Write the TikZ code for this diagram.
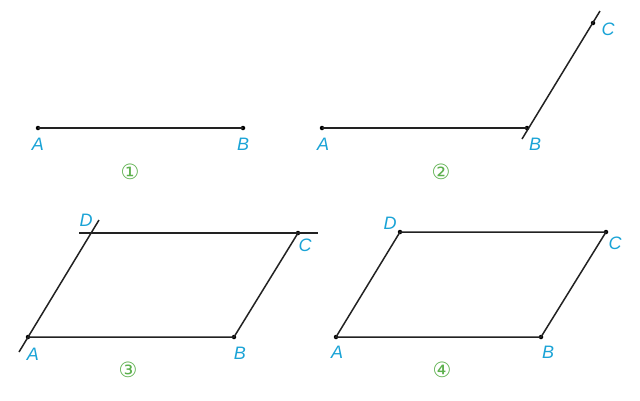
\documentclass[tikz,border=0pt]{standalone}
\usepackage{fontspec}
\setmainfont{Liberation Sans}
\newfontfamily\symfont{DejaVu Sans}
\definecolor{lblblue}{HTML}{1AA3D6}
\definecolor{numgreen}{HTML}{5DB04E}
\definecolor{linegray}{HTML}{222222}
\begin{document}
\begin{tikzpicture}[x=1pt,y=-1pt,
  seg/.style={draw=linegray,line width=1.5pt},
  pt/.style={circle,fill=black,inner sep=0pt,minimum size=4.5pt},
  lbl/.style={text=lblblue,font=\fontsize{18}{21}\selectfont\itshape,inner sep=0pt},
  num/.style={text=numgreen,font=\symfont\fontsize{21}{24}\selectfont,inner sep=0pt}]
\useasboundingbox (0,0) rectangle (640,400);
% Figure 1
\node[pt] (a1) at (38,128) {};
\node[pt] (b1) at (243,128) {};
\draw[seg] (a1.center) -- (b1.center);
\node[lbl] (la1) at (38,144) {A};
\node[lbl] (lb1) at (243,144) {B};
\node[num] (n1) at (130,172) {①};
% Figure 2
\node[pt] (a2) at (322,128) {};
\node[pt] (b2) at (527,128) {};
\node[pt] (c2) at (593,23) {};
\coordinate (b2e) at (522,139);
\coordinate (c2e) at (600,11);
\draw[seg] (a2.center) -- (b2.center);
\draw[seg] (b2e) -- (c2e);
\node[lbl] (la2) at (323,144) {A};
\node[lbl] (lb2) at (535,144) {B};
\node[lbl] (lc2) at (608,29) {C};
\node[num] (n2) at (441,172) {②};
% Figure 3
\node[pt] (a3) at (28,337) {};
\node[pt] (b3) at (234,337) {};
\node[pt] (c3) at (298,233) {};
\coordinate (a3e) at (19,352);
\coordinate (d3e) at (99,220);
\coordinate (t3l) at (79,233);
\coordinate (t3r) at (318,233);
\draw[seg] (a3.center) -- (b3.center) -- (c3.center);
\draw[seg] (a3e) -- (d3e);
\draw[seg] (t3l) -- (t3r);
\node[lbl] (la3) at (33,354) {A};
\node[lbl] (lb3) at (240,353) {B};
\node[lbl] (lc3) at (305,245) {C};
\node[lbl] (ld3) at (86,220) {D};
\node[num] (n3) at (128,370) {③};
% Figure 4
\node[pt] (a4) at (336,337) {};
\node[pt] (b4) at (541,337) {};
\node[pt] (c4) at (606,232) {};
\node[pt] (d4) at (400,232) {};
\draw[seg] (a4.center) -- (b4.center) -- (c4.center) -- (d4.center) -- cycle;
\node[lbl] (la4) at (337,352) {A};
\node[lbl] (lb4) at (548,352) {B};
\node[lbl] (lc4) at (615,243) {C};
\node[lbl] (ld4) at (390,223) {D};
\node[num] (n4) at (442,370) {④};
\end{tikzpicture}
\end{document}
